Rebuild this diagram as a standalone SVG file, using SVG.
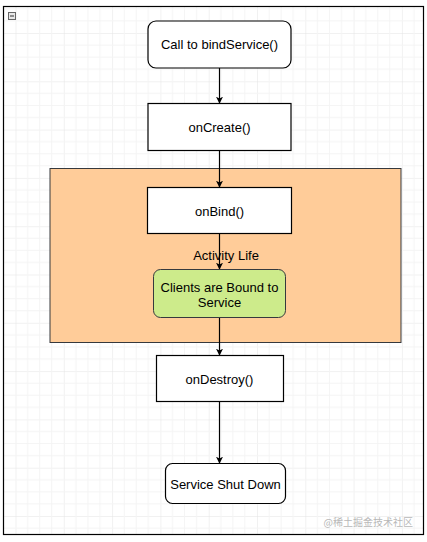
<svg xmlns="http://www.w3.org/2000/svg" width="427" height="542" viewBox="0 0 427 542">
<defs>
<style>
.node{fill:#ffffff;stroke:#000000;stroke-width:1.2}
.t{font-family:"Liberation Sans",Arial,sans-serif;font-size:13px;fill:#000;text-anchor:middle;dominant-baseline:central}
.edge{stroke:#000;stroke-width:1.2;fill:none}
.grid{stroke:#e6e6e6;stroke-width:1}
</style>
<marker id="arr" viewBox="0 0 10 10" refX="9" refY="5" markerWidth="7" markerHeight="7" markerUnits="userSpaceOnUse" orient="auto">
<path d="M0,0 L10,5 L0,10 L2.5,5 Z" fill="#000"/>
</marker>
<pattern id="g" x="15.5" y="33" width="48.3" height="48.3" patternUnits="userSpaceOnUse">
<path d="M0,0 H48.3 M0,0 V48.3" stroke="#e4e4e4" stroke-width="1" fill="none"/>
<path d="M0,12.1 H48.3 M0,24.2 H48.3 M0,36.2 H48.3 M12.1,0 V48.3 M24.2,0 V48.3 M36.2,0 V48.3" stroke="#f4f4f4" stroke-width="1" fill="none"/>
</pattern>
</defs>
<rect width="427" height="542" fill="#ffffff"/>
<rect x="3.5" y="6.5" width="420" height="528" fill="url(#g)" stroke="#000" stroke-width="1.2"/>
<g id="collapse">
<rect x="8.5" y="12.5" width="7" height="7" fill="#e8e8e8" stroke="#666" stroke-width="1"/>
<line x1="10" y1="16" x2="14" y2="16" stroke="#333" stroke-width="1"/>
</g>
<g id="activity-life">
<rect x="50" y="168.5" width="351" height="174" fill="#ffcc99" stroke="#36393d" stroke-width="1"/>
</g>
<g id="edges">
<line class="edge" x1="219.5" y1="68" x2="219.5" y2="103" marker-end="url(#arr)"/>
<line class="edge" x1="219.5" y1="151" x2="219.5" y2="187" marker-end="url(#arr)"/>
<line class="edge" x1="219.5" y1="234" x2="219.5" y2="269" marker-end="url(#arr)"/>
<line class="edge" x1="219.5" y1="318" x2="219.5" y2="355" marker-end="url(#arr)"/>
<line class="edge" x1="219.5" y1="402" x2="219.5" y2="463" marker-end="url(#arr)"/>
</g>
<g id="call-bind">
<rect class="node" x="148" y="21" width="143" height="47" rx="8"/>
<text class="t" x="219.5" y="44.5">Call to bindService()</text>
</g>
<g id="oncreate">
<rect class="node" x="148" y="103.5" width="143" height="47"/>
<text class="t" x="219.5" y="127">onCreate()</text>
</g>
<g id="onbind">
<rect class="node" x="147.5" y="187.5" width="144" height="46"/>
<text class="t" x="219.5" y="211">onBind()</text>
</g>
<g id="label-activity">
<text class="t" x="226" y="255.5">Activity Life</text>
</g>
<g id="clients">
<rect x="153.5" y="269.5" width="132" height="48" rx="7" fill="#cdeb8b" stroke="#36393d" stroke-width="1"/>
<text class="t" x="219.5" y="287">Clients are Bound to</text>
<text class="t" x="219.5" y="302">Service</text>
</g>
<g id="ondestroy">
<rect class="node" x="156.5" y="355.5" width="127" height="46"/>
<text class="t" x="219.5" y="379">onDestroy()</text>
</g>
<g id="shutdown">
<rect class="node" x="165.5" y="463.5" width="120" height="40" rx="7"/>
<text class="t" x="225.5" y="484">Service Shut Down</text>
</g>
<text x="413" y="521" font-family="'Noto Sans CJK SC',sans-serif" font-size="10" fill="#b8b8b8" text-anchor="end" dominant-baseline="central">@稀土掘金技术社区</text>
</svg>
